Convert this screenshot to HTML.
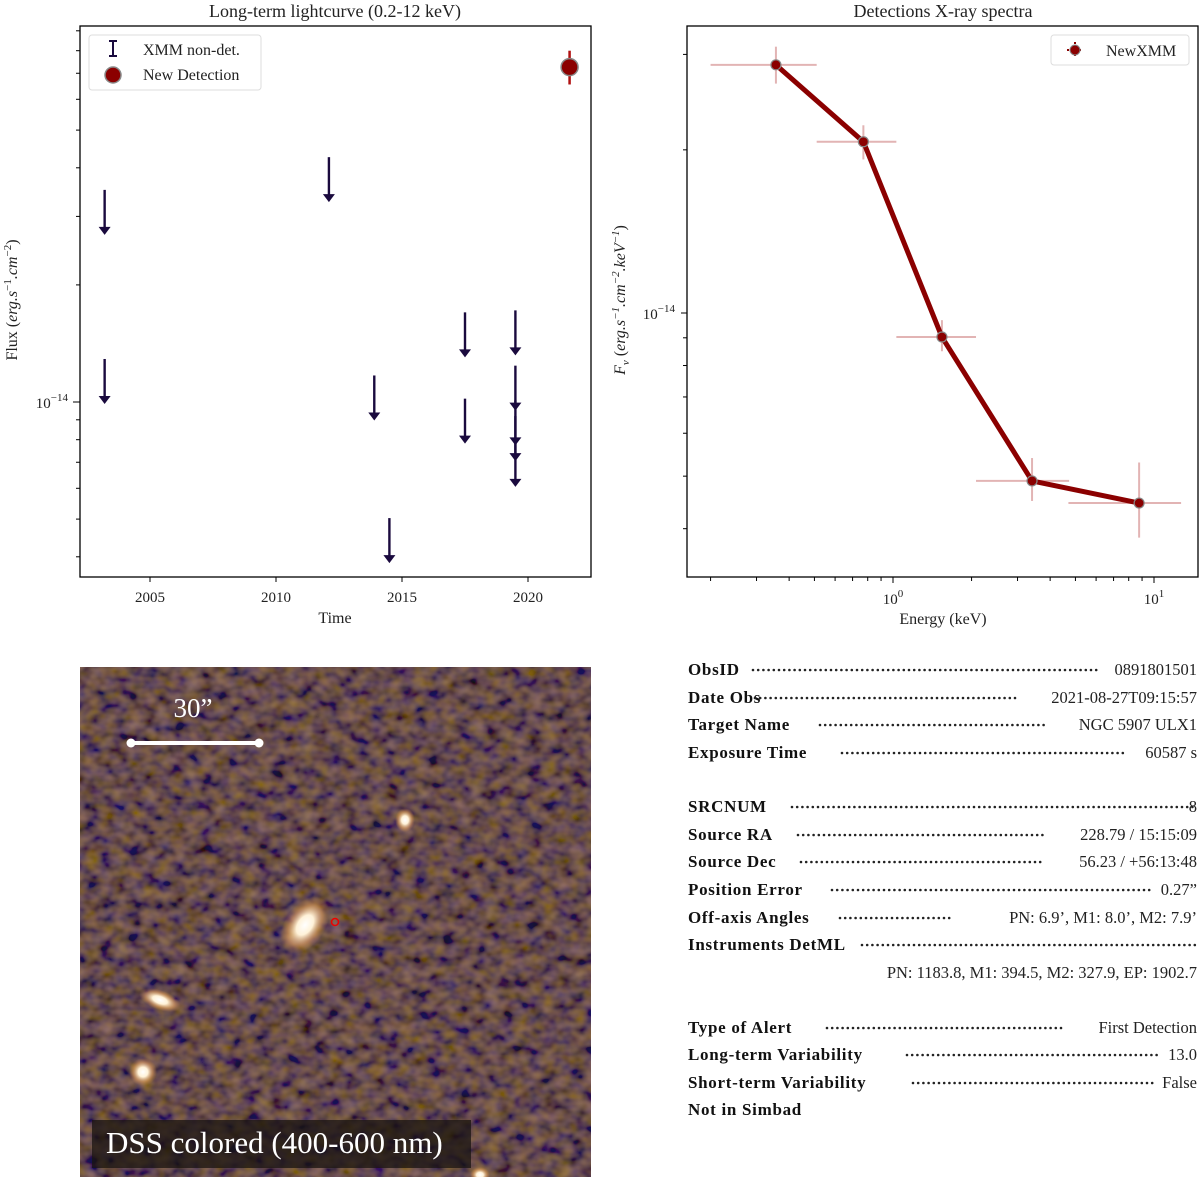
<!DOCTYPE html>
<html><head><meta charset="utf-8">
<style>
html,body{margin:0;padding:0;background:#fff;}
svg text{font-family:"Liberation Serif",serif;}
</style></head>
<body>
<svg id="root" width="1200" height="1179" viewBox="0 0 1200 1179" xmlns="http://www.w3.org/2000/svg">
<defs>
<filter id="noise" x="0" y="0" width="100%" height="100%">
<feTurbulence type="fractalNoise" baseFrequency="0.07 0.09" numOctaves="2" seed="7" result="t"/>
<feColorMatrix in="t" type="matrix" values="1.3 0 0 0 -0.3  0.75 0.1 0 0 -0.25  0 0.1 0.6 0 -0.15  0 0 0 0 1"/>
</filter>
<radialGradient id="star" cx="50%" cy="50%" r="50%">
<stop offset="0" stop-color="#ffffff"/><stop offset="0.35" stop-color="#fff2d8"/><stop offset="0.7" stop-color="#e0a060" stop-opacity="0.6"/><stop offset="1" stop-color="#c08040" stop-opacity="0"/>
</radialGradient>
<clipPath id="imgclip"><rect x="80" y="667" width="511" height="510"/></clipPath>
</defs>

<!-- Left chart -->
<g id="lc">
<text x="335" y="17" text-anchor="middle" font-size="18" fill="#222">Long-term lightcurve (0.2-12 keV)</text>
<rect x="80" y="26" width="511" height="551" fill="none" stroke="#000" stroke-width="1.3"/>
<text x="335" y="623" text-anchor="middle" font-size="16" fill="#222">Time</text>
<text transform="translate(17,300) rotate(-90)" text-anchor="middle" font-size="16" fill="#222">Flux (<tspan font-style="italic">erg.s</tspan><tspan font-size="11" dy="-6">−1</tspan><tspan dy="6" font-style="italic">.cm</tspan><tspan font-size="11" dy="-6">−2</tspan><tspan dy="6">)</tspan></text>
<g id="lc-ticks"></g>
<g id="lc-marks"></g>
<g>
<rect x="89" y="35" width="172" height="55" rx="3" fill="#fff" stroke="#ddd"/>
<line x1="113" y1="41" x2="113" y2="56" stroke="#1a0a3e" stroke-width="2"/>
<line x1="109" y1="41" x2="117" y2="41" stroke="#1a0a3e" stroke-width="2"/>
<line x1="109" y1="56" x2="117" y2="56" stroke="#1a0a3e" stroke-width="2"/>
<text x="143" y="55" font-size="16" fill="#222">XMM non-det.</text>
<circle cx="113" cy="75" r="8" fill="#8b0000" stroke="#888" stroke-width="1.5"/>
<text x="143" y="80" font-size="16" fill="#222">New Detection</text>
</g>
</g>

<!-- Right chart -->
<g id="sp">
<text x="943" y="17" text-anchor="middle" font-size="18" fill="#222">Detections X-ray spectra</text>
<rect x="687" y="26" width="511" height="551" fill="none" stroke="#000" stroke-width="1.3"/>
<text x="943" y="624" text-anchor="middle" font-size="16" fill="#222">Energy (keV)</text>
<text transform="translate(625,300) rotate(-90)" text-anchor="middle" font-size="16" fill="#222" font-style="italic">F<tspan font-size="11" dy="4">ν</tspan><tspan dy="-4" font-style="normal"> (</tspan>erg.s<tspan font-size="11" dy="-6">−1</tspan><tspan dy="6">.cm</tspan><tspan font-size="11" dy="-6">−2</tspan><tspan dy="6">.keV</tspan><tspan font-size="11" dy="-6">−1</tspan><tspan dy="6" font-style="normal">)</tspan></text>
<g id="sp-ticks"></g>
<g id="sp-marks"></g>
<g>
<rect x="1051" y="35" width="138" height="30" rx="3" fill="#fff" stroke="#ddd"/>
<line x1="1067" y1="50" x2="1083" y2="50" stroke="#8b0000" stroke-width="2" stroke-dasharray="2 2"/>
<line x1="1075" y1="42" x2="1075" y2="58" stroke="#8b0000" stroke-width="2" stroke-dasharray="2 2"/>
<circle cx="1075" cy="50" r="5" fill="#8b0000" stroke="#888"/>
<text x="1106" y="56" font-size="16" fill="#222">NewXMM</text>
</g>
</g>

<!-- Image -->
<g clip-path="url(#imgclip)">
<rect x="80" y="667" width="511" height="510" fill="#2e241c"/>
<rect x="80" y="667" width="511" height="510" filter="url(#noise)" opacity="0.5"/>
<ellipse cx="305" cy="925" rx="20" ry="32" fill="url(#star)" transform="rotate(35 305 925)"/>
<ellipse cx="405" cy="820" rx="10" ry="12" fill="url(#star)"/>
<ellipse cx="143" cy="1072" rx="14" ry="14" fill="url(#star)"/>
<ellipse cx="160" cy="1000" rx="22" ry="10" fill="url(#star)" transform="rotate(20 160 1000)"/>
<ellipse cx="480" cy="1175" rx="10" ry="8" fill="url(#star)"/>
<circle cx="335" cy="922" r="3.5" fill="none" stroke="#e00" stroke-width="1.5"/>
<line x1="131" y1="743" x2="259" y2="743" stroke="#fff" stroke-width="4"/>
<circle cx="131" cy="743" r="4.5" fill="#fff"/><circle cx="259" cy="743" r="4.5" fill="#fff"/>
<text x="193" y="717" text-anchor="middle" font-size="27" fill="#fff">30”</text>
<rect x="92" y="1120" width="379" height="48" fill="#1a1410" opacity="0.75"/>
<text x="106" y="1153" font-size="31" fill="#fff">DSS colored (400-600 nm)</text>
</g>

<g id="info"></g>
</svg>

<script>
const NS="http://www.w3.org/2000/svg";
function mk(parent,tag,attrs){const e=document.createElementNS(NS,tag);for(const k in attrs)e.setAttribute(k,attrs[k]);parent.appendChild(e);return e;}

// ---------- Light curve data ----------
const ulYears=[2003.2,2003.2,2012.1,2013.9,2014.5,2017.5,2017.5,2019.5,2019.5,2019.5,2019.5,2019.5];
const ulFlux=[3.51,1.29,4.26,1.17,0.503,1.70,1.02,1.72,1.24,1.01,0.92,0.79]; // x1e-14
const detYears=[2021.65];
const detFlux=[7.26];
const detLo=[6.55];
const detHi=[8.0];
const lcXTicks=[2005,2010,2015,2020];

const lcX=y=>150+(y-2005)*25.2;
const lcY=f=>402-Math.log10(f)*389;

const lt=document.getElementById('lc-ticks');
lcXTicks.forEach(t=>{const x=lcX(t);
 const l=mk(lt,'line',{x1:x,y1:577,x2:x,y2:582,stroke:'#000'});
 
 
 const tx=mk(lt,'text',{x:x,y:602,'text-anchor':'middle','font-size':15,fill:'#222'});tx.textContent=t;
 
 
});
for(let d=-1;d<=0;d++)for(let m=1;m<=9;m++){const v=m*Math.pow(10,d);const y=lcY(v);if(y<26||y>577)continue;
 mk(lt,'line',{x1:80,y1:y,x2:(m===1?73:76),y2:y,stroke:'#000'});}
{const tx=mk(lt,'text',{x:68,y:408,'text-anchor':'end','font-size':15,fill:'#222'});tx.innerHTML='10<tspan font-size="11" dy="-7">−14</tspan>';
 
 }

const lm=document.getElementById('lc-marks');
ulYears.forEach((yr,i)=>{const x=lcX(yr),y=lcY(ulFlux[i]);
 const g=mk(lm,'g',{});
 
 
 mk(g,'line',{x1:x,y1:y,x2:x,y2:y+40,stroke:'#1a0a3e','stroke-width':2.4});
 mk(g,'path',{d:`M${x-6},${y+37} L${x+6},${y+37} L${x},${y+45} Z`,fill:'#1a0a3e'});
});
detYears.forEach((yr,i)=>{const x=lcX(yr);
 const g=mk(lm,'g',{});
 
 
 mk(g,'line',{x1:x,y1:lcY(detHi[i]),x2:x,y2:lcY(detLo[i]),stroke:'#b01010','stroke-width':2.5});
 mk(g,'circle',{cx:x,cy:lcY(detFlux[i]),r:8.5,fill:'#8b0000',stroke:'#888','stroke-width':1.5});
});

// ---------- Spectrum data ----------
const eCenter=[0.356,0.77,1.54,3.41,8.77];
const eLo=[0.2,0.51,1.03,2.08,4.7];
const eHi=[0.51,1.03,2.08,4.73,12.7];
const fluxV=[2.87,2.07,0.903,0.49,0.446]; // x1e-14
const fluxLo=[2.65,1.92,0.85,0.45,0.385];
const fluxHi=[3.1,2.22,0.97,0.54,0.53];
const spXTickLabels=['10','10'];
const spXTickExp=['0','1'];

const spX=e=>893+Math.log10(e)*261;
const spY=f=>313-Math.log10(f)*542;

const st=document.getElementById('sp-ticks');
[1,10].forEach((v,i)=>{const x=spX(v);
 mk(st,'line',{x1:x,y1:577,x2:x,y2:583,stroke:'#000'});
 const tx=mk(st,'text',{x:x,y:604,'text-anchor':'middle','font-size':15,fill:'#222'});
 tx.innerHTML=spXTickLabels[i]+'<tspan font-size="11" dy="-7">'+spXTickExp[i]+'</tspan>';
 
 
});
for(let d=-1;d<=1;d++)for(let m=2;m<=9;m++){const x=spX(m*Math.pow(10,d));if(x<687||x>1198)continue;
 mk(st,'line',{x1:x,y1:577,x2:x,y2:581,stroke:'#000'});}
for(let d=-1;d<=0;d++)for(let m=1;m<=9;m++){const y=spY(m*Math.pow(10,d));if(y<26||y>577)continue;
 mk(st,'line',{x1:687,y1:y,x2:(m===1?681:683),y2:y,stroke:'#000'});}
{const tx=mk(st,'text',{x:675,y:319,'text-anchor':'end','font-size':15,fill:'#222'});tx.innerHTML='10<tspan font-size="11" dy="-7">−14</tspan>';
 
 }

const sm=document.getElementById('sp-marks');
eCenter.forEach((e,i)=>{const x=spX(e),y=spY(fluxV[i]);
 const g=mk(sm,'g',{});
 
 
 mk(g,'line',{x1:spX(eLo[i]),y1:y,x2:spX(eHi[i]),y2:y,stroke:'#e2b4b4','stroke-width':2});
 mk(g,'line',{x1:x,y1:spY(fluxHi[i]),x2:x,y2:spY(fluxLo[i]),stroke:'#e2b4b4','stroke-width':2});
});
const pts=eCenter.map((e,i)=>spX(e)+','+spY(fluxV[i])).join(' ');
const pl=mk(sm,'polyline',{points:pts,fill:'none',stroke:'#8b0000','stroke-width':5,'stroke-linejoin':'round'});


eCenter.forEach((e,i)=>{
 const c=mk(sm,'circle',{cx:spX(e),cy:spY(fluxV[i]),r:5,fill:'#8b0000',stroke:'#888','stroke-width':1.2});
 
 
});

// ---------- Info panel ----------
const rows=[
 ['ObsID',669,753,1097,'0891801501'],
 ['Date Obs',697,755,1017,'2021-08-27T09:15:57'],
 ['Target Name',724,820,1048,'NGC 5907 ULX1'],
 ['Exposure Time',752,842,1127,'60587 s'],
 ['SRCNUM',806,792,1193,'8'],
 ['Source RA',834,798,1046,'228.79 / 15:15:09'],
 ['Source Dec',861,801,1043,'56.23 / +56:13:48'],
 ['Position Error',889,832,1150,'0.27”'],
 ['Off-axis Angles',917,840,952,'PN: 6.9’, M1: 8.0’, M2: 7.9’'],
 ['Instruments DetML',944,862,1197,''],
 ['',972,0,0,'PN: 1183.8, M1: 394.5, M2: 327.9, EP: 1902.7'],
 ['Type of Alert',1027,827,1064,'First Detection'],
 ['Long-term Variability',1054,907,1160,'13.0'],
 ['Short-term Variability',1082,913,1153,'False'],
 ['Not in Simbad',1109,0,0,'']
];
const info=document.getElementById('info');
rows.forEach(r=>{const y=r[1]+6;
 if(r[0]){const t=mk(info,'text',{x:688,y:y,'font-size':17,'font-weight':'bold',fill:'#111','letter-spacing':'0.7'});t.textContent=r[0];
  
  }
 if(r[3]>r[2]){mk(info,'line',{x1:r[2],y1:y-5,x2:r[3],y2:y-5,stroke:'#222','stroke-width':2.6,'stroke-dasharray':'0 5.2','stroke-linecap':'round'});}
 if(r[4]){const t=mk(info,'text',{x:1197,y:y,'text-anchor':'end','font-size':16.5,fill:'#222'});t.textContent=r[4];
  
  }
});
</script>
</body></html>
